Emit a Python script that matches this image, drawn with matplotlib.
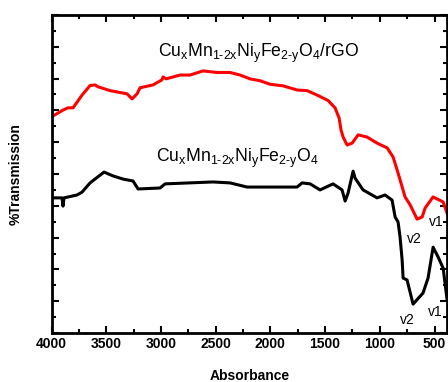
import matplotlib.pyplot as plt
import numpy as np

plt.rcParams['font.family'] = ['Liberation Sans', 'DejaVu Sans']
plt.rcParams['mathtext.fontset'] = 'custom'
plt.rcParams['mathtext.rm'] = 'Liberation Sans'
plt.rcParams['mathtext.it'] = 'Liberation Sans'

# composite with rGO (red)
wn_rgo = [3998, 3895, 3849, 3803, 3721, 3648, 3602, 3575, 3465, 3310, 3264, 3218,
          3191, 3072, 2990, 2981, 2953, 2825, 2734, 2615, 2487, 2368, 2277, 2186,
          2094, 2003, 1884, 1756, 1665, 1573, 1473, 1409, 1372, 1354, 1335, 1299,
          1253, 1198, 1116, 1025, 933, 878, 833, 769, 723, 659, 613, 586, 513, 421, 385]
t_rgo = [68.0, 70.1, 70.8, 70.8, 74.8, 77.8, 78.0, 77.4, 76.2, 75.2, 73.6, 75.2,
         77.1, 78.0, 79.6, 80.5, 79.9, 81.1, 81.1, 82.4, 81.9, 81.9, 81.1, 79.9,
         79.3, 78.2, 77.7, 76.4, 76.2, 74.8, 73.1, 70.8, 67.6, 63.8, 61.6, 59.1,
         59.7, 62.3, 61.6, 59.7, 58.2, 55.3, 50.3, 42.8, 40.3, 35.8, 36.5, 39.3, 42.8, 41.2, 37.7]

# bare ferrite (black)
wn_fer = [3995, 3904, 3895, 3886, 3767, 3721, 3648, 3520, 3438, 3346, 3255, 3209,
          3008, 2962, 2524, 2368, 2213, 2030, 1756, 1710, 1637, 1546, 1427, 1345,
          1317, 1290, 1244, 1226, 1153, 1025, 952, 888, 860, 833, 815, 796, 787,
          751, 696, 605, 559, 513, 467, 421, 385]
t_fer = [42.5, 42.5, 39.9, 42.5, 43.4, 44.3, 47.2, 50.6, 49.4, 48.4, 47.8, 45.3,
         45.6, 46.9, 47.5, 47.2, 45.9, 45.9, 45.9, 47.2, 46.9, 45.0, 46.9, 45.0,
         41.5, 44.0, 50.9, 48.7, 45.0, 42.5, 43.4, 41.8, 36.5, 34.9, 30.2, 23.0, 17.3,
         16.7, 9.1, 12.6, 17.3, 27.0, 23.9, 20.4, 10.4]

xticks = [4000, 3500, 3000, 2500, 2000, 1500, 1000, 500]

fig = plt.figure(figsize=(4.48, 3.82), dpi=100)
ax = fig.add_axes([0.115, 0.128, 0.883, 0.833])

ax.plot(wn_rgo, t_rgo, color='red', lw=2.2)
ax.plot(wn_fer, t_fer, color='black', lw=2.2)

ax.set_xlim(4000, 385)
ax.set_ylim(0, 100)
ax.set_xticks(xticks)
ax.set_xticks(np.arange(4000, 385, -250), minor=True)
ax.set_yticks(np.arange(0, 101, 10))
ax.set_yticks(np.arange(0, 101, 5), minor=True)
ax.set_yticklabels([])
ax.tick_params(which='both', direction='in', top=True, right=True, width=1.5)
ax.tick_params(which='major', length=5)
ax.tick_params(which='minor', length=3)
ax.tick_params(axis='x', pad=3)
for lbl in ax.get_xticklabels():
    lbl.set_fontweight('bold')
    lbl.set_fontsize(10)
for s in ax.spines.values():
    s.set_linewidth(2)

ax.set_xlabel('Absorbance', fontsize=10, fontweight='bold', labelpad=13)
ax.set_ylabel('%Transmission', fontsize=10, fontweight='bold', labelpad=17)

hy = r'\text{-}'
lab_rgo = r'$\mathregular{Cu_xMn_{1' + hy + r'2x}Ni_yFe_{2' + hy + r'y}O_4/rGO}$'
lab_fer = r'$\mathregular{Cu_xMn_{1' + hy + r'2x}Ni_yFe_{2' + hy + r'y}O_4}$'
ax.text(2110, 88.0, lab_rgo, fontsize=12.7, ha='center', va='center')
ax.text(2300, 54.8, lab_fer, fontsize=12.7, ha='center', va='center')
ax.text(686, 29.6, 'v2', fontsize=10, ha='center', va='center')
ax.text(485, 34.9, 'v1', fontsize=10, ha='center', va='center')
ax.text(752, 4.1, 'v2', fontsize=10, ha='center', va='center')
ax.text(494, 6.6, 'v1', fontsize=10, ha='center', va='center')

fig.savefig('out.png', dpi=100)
